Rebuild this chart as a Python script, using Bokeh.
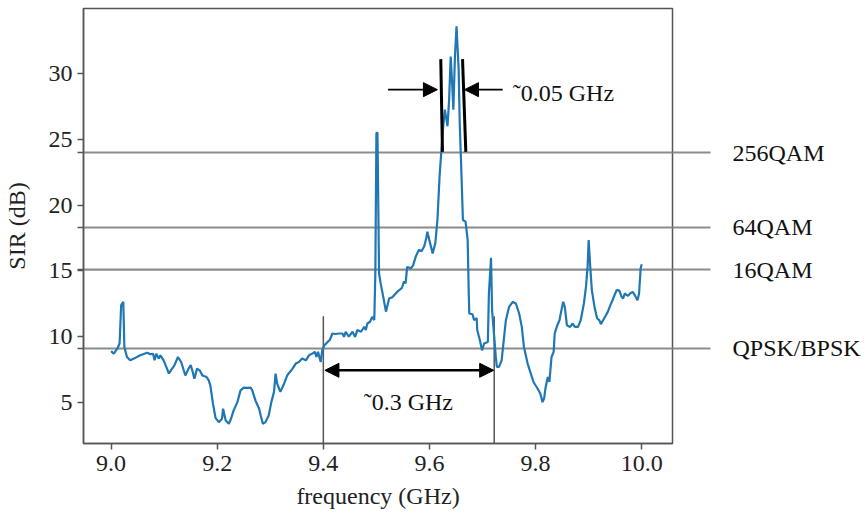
from bokeh.plotting import figure
from bokeh.models import Arrow, NormalHead, Label, FixedTicker, Range1d, LinearAxis
from bokeh.embed import file_html
from bokeh.resources import INLINE

freq = [9.000, 9.005, 9.012, 9.016, 9.019, 9.023, 9.025, 9.030, 9.036, 9.043,
        9.055, 9.068, 9.074, 9.079, 9.082, 9.085, 9.090, 9.093, 9.099, 9.109,
        9.115, 9.119, 9.126, 9.132, 9.140, 9.146, 9.150, 9.153, 9.157, 9.162,
        9.167, 9.172, 9.180, 9.184, 9.187, 9.192, 9.197, 9.203, 9.209, 9.211,
        9.216, 9.222, 9.226, 9.231, 9.238, 9.244, 9.250, 9.257, 9.263, 9.266,
        9.272, 9.279, 9.282, 9.286, 9.291, 9.297, 9.302, 9.307, 9.310, 9.313,
        9.319, 9.326, 9.332, 9.342, 9.348, 9.354, 9.360, 9.367, 9.373, 9.379,
        9.384, 9.387, 9.390, 9.395, 9.398, 9.402, 9.408, 9.412, 9.417, 9.423,
        9.430, 9.436, 9.439, 9.442, 9.448, 9.455, 9.460, 9.464, 9.471, 9.477,
        9.480, 9.483, 9.488, 9.492, 9.496, 9.498, 9.500, 9.502, 9.505, 9.508,
        9.514, 9.518, 9.524, 9.530, 9.539, 9.548, 9.552, 9.555, 9.558, 9.565,
        9.569, 9.574, 9.580, 9.585, 9.590, 9.594, 9.596, 9.600, 9.606, 9.611,
        9.615, 9.619, 9.623, 9.626, 9.629, 9.634, 9.637, 9.640, 9.643, 9.645,
        9.648, 9.651, 9.655, 9.657, 9.660, 9.663, 9.668, 9.672, 9.674, 9.675,
        9.681, 9.684, 9.689, 9.690, 9.695, 9.699, 9.703, 9.710, 9.712, 9.716,
        9.718, 9.722, 9.725, 9.727, 9.731, 9.736, 9.740, 9.744, 9.750, 9.757,
        9.763, 9.769, 9.774, 9.778, 9.785, 9.791, 9.796, 9.804, 9.809, 9.813,
        9.816, 9.819, 9.823, 9.826, 9.830, 9.834, 9.836, 9.841, 9.845, 9.848,
        9.852, 9.855, 9.859, 9.865, 9.870, 9.874, 9.880, 9.885, 9.891, 9.895,
        9.898, 9.900, 9.903, 9.906, 9.911, 9.916, 9.920, 9.923, 9.929, 9.936,
        9.941, 9.945, 9.950, 9.953, 9.958, 9.962, 9.965, 9.968, 9.974, 9.978,
        9.983, 9.987, 9.992, 9.995, 9.998, 10.000]
sir = [8.9, 8.7, 9.1, 9.5, 12.4, 12.65, 9.2, 8.45, 8.2, 8.33,
       8.58, 8.78, 8.66, 8.7, 8.2, 8.7, 8.33, 8.58, 8.2, 7.2,
       7.57, 7.8, 8.45, 8.07, 7.05, 7.57, 7.83, 7.44, 6.8, 7.57,
       7.44, 7.05, 6.93, 6.68, 6.3, 4.9, 3.8, 3.5, 3.76, 4.52,
       3.63, 3.38, 3.76, 4.39, 5.02, 5.92, 6.12, 6.1, 6.12, 5.92,
       5.15, 4.52, 4.0, 3.38, 3.5, 4.0, 5.02, 5.8, 7.19, 6.42,
       5.8, 6.42, 7.06, 7.57, 7.95, 8.07, 8.33, 8.2, 8.58, 8.71,
       8.84, 8.45, 8.84, 8.07, 8.97, 9.35, 9.6, 9.73, 10.24, 10.2,
       10.24, 10.24, 9.98, 10.37, 10.0, 10.37, 9.98, 10.5, 10.37, 10.75,
       10.5, 11.0, 11.13, 11.5, 11.26, 14.8, 25.5, 25.5, 14.8, 14.05,
       12.78, 11.9, 12.9, 13.0, 13.4, 13.7, 14.2, 14.05, 15.3, 15.2,
       15.4, 16.07, 16.6, 16.5, 16.85, 17.5, 17.98, 17.3, 16.33, 17.1,
       18.87, 22.17, 24.46, 26.0, 27.26, 26.0, 28.0, 31.3, 29.03, 27.26,
       31.3, 33.6, 30.3, 26.24, 22.7, 18.87, 18.74, 17.35, 13.3, 11.76,
       11.7, 11.26, 11.4, 10.5, 9.73, 8.96, 9.48, 9.6, 13.3, 16.0,
       12.0, 10.0, 8.45, 7.7, 7.7, 8.2, 9.73, 11.25, 12.26, 12.65,
       12.5, 11.76, 10.74, 9.22, 7.95, 7.19, 6.55, 6.04, 5.66, 5.02,
       5.3, 6.17, 6.93, 6.55, 8.45, 8.84, 10.24, 10.87, 11.25, 11.88,
       12.65, 12.26, 10.87, 10.74, 11.0, 10.74, 10.74, 11.25, 12.52, 13.8,
       15.3, 17.35, 15.3, 13.54, 12.26, 11.38, 11.25, 10.95, 11.38, 11.88,
       12.4, 12.77, 13.28, 13.54, 13.5, 13.03, 12.9, 13.28, 13.1, 13.28,
       13.4, 13.15, 12.77, 13.28, 15.2, 15.5]

level_values = [24.0, 18.3, 15.1, 9.1]
level_names = ["256QAM", "64QAM", "16QAM", "QPSK/BPSK"]

x_ticks = [9.0, 9.2, 9.4, 9.6, 9.8, 10.0]
x_tick_labels = ["9.0", "9.2", "9.4", "9.6", "9.8", "10.0"]
y_ticks = [5, 10, 15, 20, 25, 30]

# annotation geometry (data units)
band_left = 9.4
band_right = 9.722
band_marker_top = 11.55
band_arrow_y = 7.44
peak_bar_x_top = [9.6213, 9.6623]
peak_bar_x_bottom = [9.6245, 9.6685]
peak_bar_top = 31.1
peak_bar_bottom = 24.05
peak_arrow_y = 28.78

X0, X1 = 8.948, 10.058
Y0, Y1 = 1.875, 34.95
SERIF = "Liberation Serif"
GRAY = "#8c8c8c"
DARK = "#555555"
FS = "24px"

p = figure(width=865, height=512, output_backend="svg", toolbar_location=None,
           x_range=Range1d(X0, X1), y_range=Range1d(Y0, Y1),
           min_border_left=83, min_border_right=193, min_border_top=8,
           min_border_bottom=69)
p.background_fill_color = "white"
p.border_fill_color = "white"
p.xgrid.visible = False
p.ygrid.visible = False
p.outline_line_color = DARK
p.outline_line_width = 1.5

for ax in (p.xaxis[0], p.yaxis[0]):
    ax.axis_line_color = DARK
    ax.axis_line_width = 1.5
    ax.major_tick_line_color = DARK
    ax.major_tick_line_width = 1.5
    ax.major_tick_out = 6
    ax.major_tick_in = 0
    ax.minor_tick_line_color = None
    ax.major_label_text_font = SERIF
    ax.major_label_text_font_size = FS
    ax.major_label_text_color = "#222222"
    ax.axis_label_text_font = SERIF
    ax.axis_label_text_font_size = FS
    ax.axis_label_text_font_style = "normal"
    ax.axis_label_text_color = "#222222"

p.xaxis.ticker = FixedTicker(ticks=x_ticks)
p.xaxis.major_label_overrides = {t: s for t, s in zip(x_ticks, x_tick_labels)}
p.xaxis.axis_label = "frequency (GHz)"
p.xaxis.major_label_standoff = 6
p.xaxis.axis_label_standoff = 9
# left axis: numeric ticks plus short stubs where the threshold lines poke out
p.yaxis.ticker = FixedTicker(ticks=y_ticks + level_values)
p.yaxis.major_label_overrides = {v: "" for v in level_values}
p.yaxis.axis_label = "SIR (dB)"
p.yaxis.major_label_standoff = 5
p.yaxis.axis_label_standoff = 16

# right axis: threshold names, its long ticks continue the threshold lines
right_axis = LinearAxis(ticker=FixedTicker(ticks=level_values),
                        major_label_overrides={v: n for v, n in zip(level_values, level_names)})
right_axis.axis_line_color = None
right_axis.major_tick_in = 0
right_axis.major_tick_out = 38
right_axis.major_tick_line_color = GRAY
right_axis.major_tick_line_width = 2.2
right_axis.minor_tick_line_color = None
right_axis.major_label_standoff = 22
right_axis.major_label_text_font = SERIF
right_axis.major_label_text_font_size = FS
right_axis.major_label_text_color = "#111111"
p.add_layout(right_axis, "right")

# modulation threshold lines (inside frame, below the curve)
p.segment(x0=[X0] * len(level_values), x1=[X1] * len(level_values),
          y0=level_values, y1=level_values, line_color=GRAY, line_width=2.2)

# band edge markers
p.segment(x0=[band_left, band_right], x1=[band_left, band_right],
          y0=[band_marker_top, band_marker_top], y1=[Y0, Y0],
          line_color=DARK, line_width=1.5)

# spectrum curve
p.line(freq, sir, line_color="#1f77b4", line_width=2.2)

# ~0.3 GHz double arrow
p.add_layout(Arrow(start=NormalHead(size=14, fill_color="black", line_color="black"),
                   end=NormalHead(size=14, fill_color="black", line_color="black"),
                   x_start=band_left + 0.003, x_end=band_right - 0.001,
                   y_start=band_arrow_y, y_end=band_arrow_y,
                   line_color="black", line_width=2.5))
p.add_layout(Label(x=9.476, y=5.0, text="\u02dc0.3 GHz", text_baseline="middle",
                   text_font=SERIF, text_font_size=FS, text_color="#111111"))

# peak bandwidth bars
p.segment(x0=peak_bar_x_top, x1=peak_bar_x_bottom,
          y0=[peak_bar_top] * 2, y1=[peak_bar_bottom] * 2,
          line_color="black", line_width=3)
p.add_layout(Arrow(end=NormalHead(size=14, fill_color="black", line_color="black"),
                   x_start=9.522, x_end=9.615, y_start=peak_arrow_y, y_end=peak_arrow_y,
                   line_color="black", line_width=1.8))
p.add_layout(Arrow(end=NormalHead(size=14, fill_color="black", line_color="black"),
                   x_start=9.738, x_end=9.666, y_start=peak_arrow_y, y_end=peak_arrow_y,
                   line_color="black", line_width=1.8))
p.add_layout(Label(x=9.757, y=28.5, text="\u02dc0.05 GHz", text_baseline="middle",
                   text_font=SERIF, text_font_size=FS, text_color="#111111"))

open("out.html", "w").write(file_html(p, INLINE))
